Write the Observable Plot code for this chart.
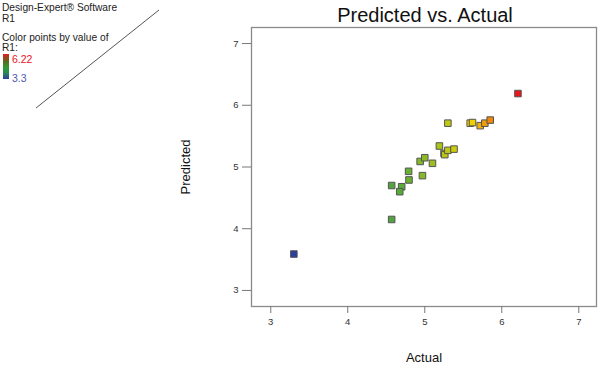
<!DOCTYPE html>
<html>
<head>
<meta charset="utf-8">
<script src="https://cdn.jsdelivr.net/npm/d3@7"></script>
<script src="https://cdn.jsdelivr.net/npm/@observablehq/plot@0.6"></script>
<style>
  html, body { margin: 0; padding: 0; background: #fff; overflow: hidden; }
  #wrap { position: relative; width: 600px; height: 367px; font-family: "Liberation Sans", Arial, sans-serif; }
  #wrap svg { position: absolute; left: 0; top: 0; }
  .t { position: absolute; white-space: nowrap; font-size: 10.2px; color: #222; line-height: 10px; }
</style>
</head>
<body>
<div id="wrap"></div>
<script>
// Actual R1 values
const actual = [3.30, 4.57, 4.57, 4.70, 4.675, 4.79, 4.795, 4.97, 4.94, 5.00, 5.10, 5.19, 5.25, 5.26, 5.30, 5.38, 5.30, 5.59, 5.62, 5.72, 5.78, 5.85, 6.21];
// Predicted R1 values
const predicted = [3.59, 4.15, 4.70, 4.68, 4.60, 4.93, 4.79, 4.86, 5.09, 5.15, 5.06, 5.34, 5.22, 5.20, 5.27, 5.29, 5.71, 5.71, 5.72, 5.67, 5.71, 5.76, 6.19];
const xTicks = [3, 4, 5, 6, 7];
const yTicks = [3, 4, 5, 6, 7];
const colorStops = [3.3, 4.7, 5.6, 6.22];
const colorRange = ["#2a3e9b", "#58ad37", "#f2d500", "#e8141c"];
const legendMax = "6.22";
const legendMin = "3.3";

const data = actual.map((a, i) => ({actual: a, predicted: predicted[i]}));
const fmt = d3.format("d");

const chart = Plot.plot({
  width: 600,
  height: 367,
  marginLeft: 251,
  marginRight: 4,
  marginTop: 27,
  marginBottom: 61,
  style: {fontFamily: "Liberation Sans, Arial, sans-serif", fontSize: "9.5px", color: "#333", background: "transparent", overflow: "visible"},
  x: {domain: [2.75, 7.23], label: null},
  y: {domain: [2.74, 7.26], label: null},
  color: {type: "linear", domain: colorStops, range: colorRange},
  marks: [
    Plot.frame({stroke: "#8a8a8a", strokeWidth: 1.3}),
    Plot.axisX({ticks: xTicks, tickFormat: fmt, tickSize: 7, tickPadding: 5, stroke: "#777", label: null}),
    Plot.axisY({ticks: yTicks, tickFormat: fmt, tickSize: 9, tickPadding: 4, stroke: "#777", label: null}),
    Plot.dot(data, {x: "actual", y: "predicted", symbol: "square", r: 3.7, fill: d => d.actual, stroke: "#555", strokeWidth: 1, fillOpacity: 1})
  ]
});

const wrap = document.getElementById("wrap");
wrap.appendChild(chart);

function addText(txt, style) {
  const d = document.createElement("div");
  d.className = "t";
  d.textContent = txt;
  Object.assign(d.style, style);
  wrap.appendChild(d);
  return d;
}
addText("Design-Expert® Software", {left: "2px", top: "3px"});
addText("R1", {left: "2px", top: "14px"});
addText("Color points by value of", {left: "2px", top: "33px"});
addText("R1:", {left: "2px", top: "43px"});
addText(legendMax, {left: "12px", top: "54px", color: "#e8141c", fontSize: "10.5px"});
addText(legendMin, {left: "12px", top: "73px", color: "#4a5ab0", fontSize: "10.5px"});
const bar = document.createElement("div");
Object.assign(bar.style, {position: "absolute", left: "3px", top: "54px", width: "6px", height: "25px",
  background: "linear-gradient(to bottom, #e0201e, #5a6a22 30%, #2f9a35 55%, #2a8a5a 75%, #2a3e9b)"});
wrap.appendChild(bar);

addText("Predicted vs. Actual", {left: "425px", top: "5px", fontSize: "20px", lineHeight: "20px", transform: "translateX(-50%)", color: "#111"});
addText("Actual", {left: "424px", top: "351px", fontSize: "13px", lineHeight: "14px", transform: "translateX(-50%)", color: "#111"});
addText("Predicted", {left: "186px", top: "167px", fontSize: "13px", lineHeight: "14px", transform: "translate(-50%,-50%) rotate(-90deg)", color: "#111"});

// decorative diagonal line at top left
const ns = "http://www.w3.org/2000/svg";
const s = document.createElementNS(ns, "svg");
s.setAttribute("width", 200); s.setAttribute("height", 120);
s.style.position = "absolute"; s.style.left = "0"; s.style.top = "0";
const ln = document.createElementNS(ns, "line");
ln.setAttribute("x1", 36); ln.setAttribute("y1", 108); ln.setAttribute("x2", 159); ln.setAttribute("y2", 10);
ln.setAttribute("stroke", "#555"); ln.setAttribute("stroke-width", 1);
s.appendChild(ln);
wrap.appendChild(s);
</script>
</body>
</html>
